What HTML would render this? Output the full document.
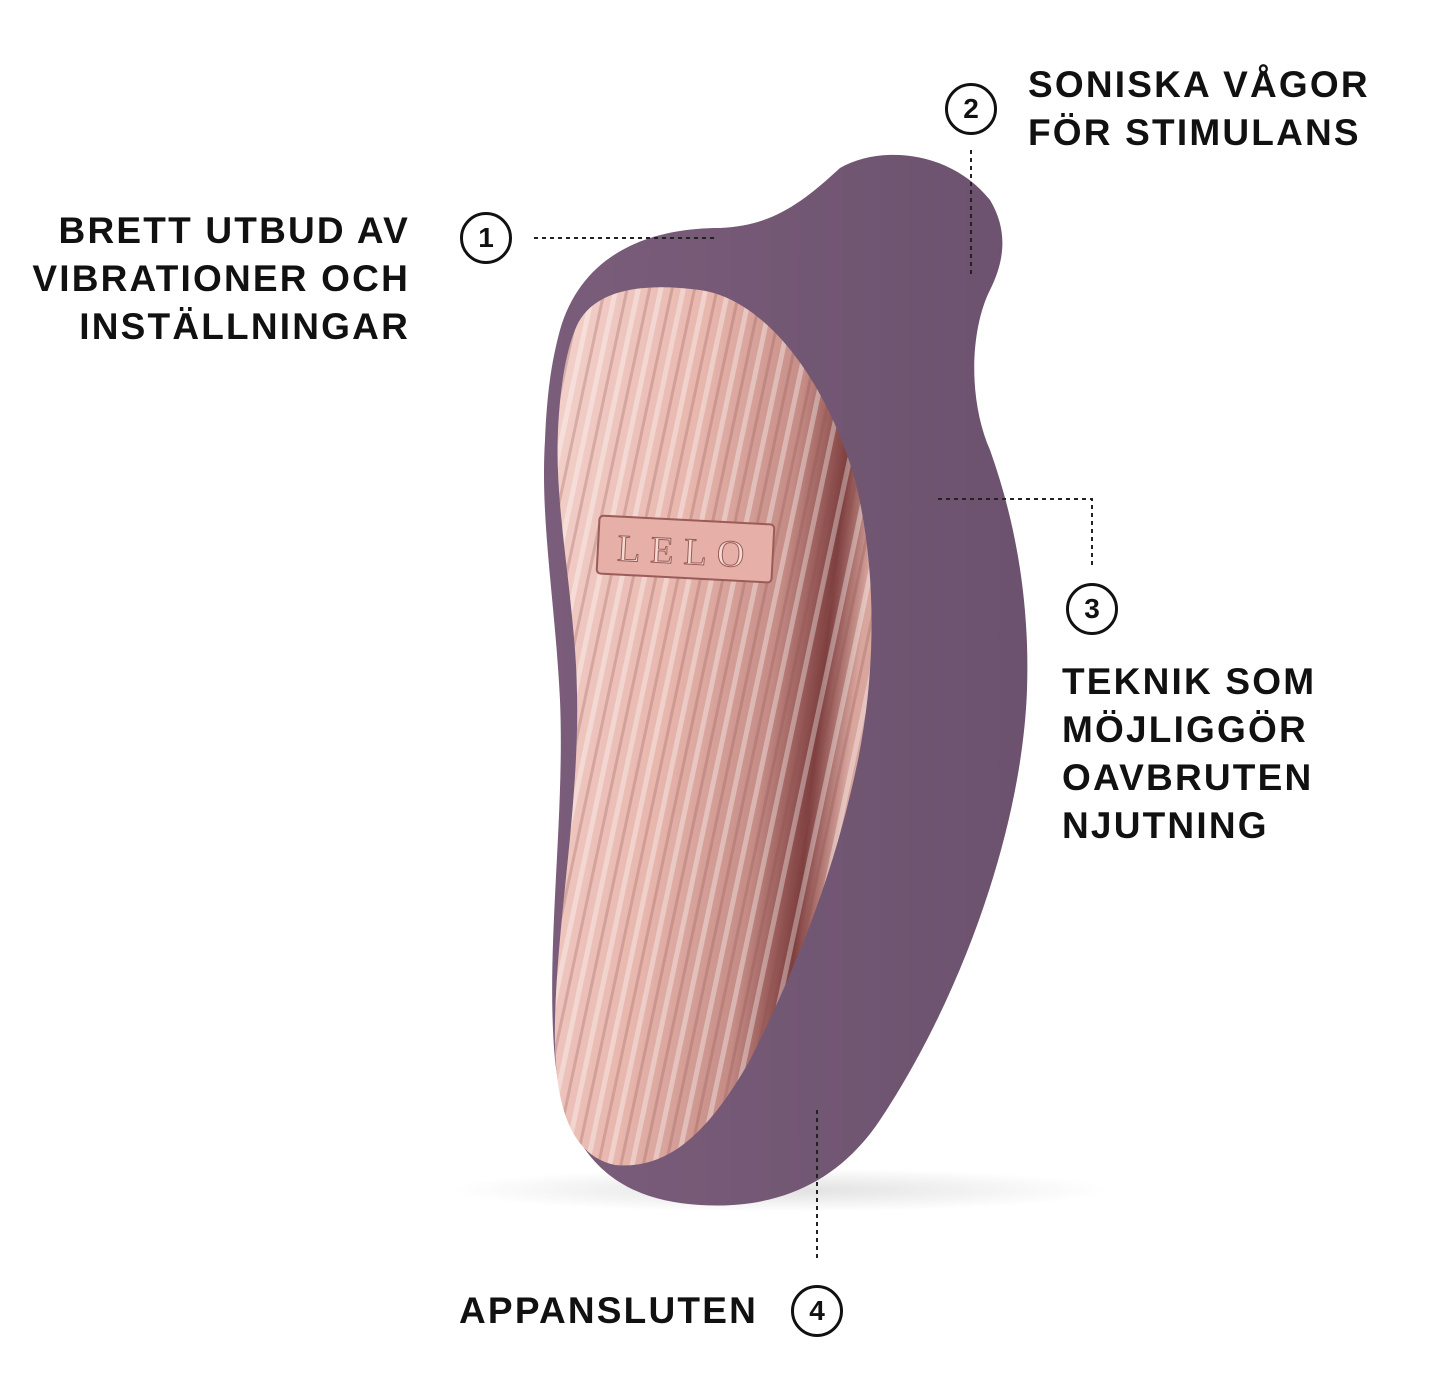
<!DOCTYPE html>
<html><head><meta charset="utf-8"><style>
html,body{margin:0;padding:0;background:#fff}
body{width:1444px;height:1388px;position:relative;overflow:hidden;font-family:"Liberation Sans",sans-serif}
.t{position:absolute;font-weight:bold;font-size:37px;line-height:48px;color:#111;letter-spacing:2.2px}
.c{position:absolute;width:52px;height:52px;border:3px solid #111;border-radius:50%;box-sizing:border-box;font-weight:bold;font-size:28px;line-height:46px;text-align:center;color:#111;background:#fff}
</style></head><body>
<svg width="1444" height="1388" style="position:absolute;left:0;top:0">
<defs>
<linearGradient id="p" x1="0" y1="0" x2="1" y2="0">
<stop offset="0" stop-color="#7a5d7a"/><stop offset="1" stop-color="#6c526e"/></linearGradient>
<linearGradient id="k" x1="0" y1="0" x2="1" y2="0.3">
<stop offset="0" stop-color="#f3d2cc"/><stop offset="0.45" stop-color="#e8b7ae"/><stop offset="0.75" stop-color="#c58c86"/><stop offset="0.9" stop-color="#7e3f3f"/><stop offset="1" stop-color="#d9a69e"/></linearGradient>
<pattern id="s" width="22" height="40" patternUnits="userSpaceOnUse" patternTransform="rotate(12)">
<rect x="0" width="5" height="40" fill="#fff" opacity="0.35"/><rect x="12" width="3" height="40" fill="#8a4a48" opacity="0.25"/></pattern>
<radialGradient id="sh"><stop offset="0" stop-color="#000" stop-opacity="0.12"/><stop offset="1" stop-color="#000" stop-opacity="0"/></radialGradient>
</defs>
<ellipse cx="780" cy="1190" rx="330" ry="22" fill="url(#sh)"/>
<path d="M560,330 C580,260 640,228 720,228 C770,226 800,205 840,168 C880,145 950,150 990,200 C1008,230 1005,260 990,290 C970,330 968,400 990,450 C1015,520 1030,600 1027,690 C1022,830 960,1000 880,1120 C840,1180 780,1210 700,1205 C610,1200 565,1150 555,1060 C545,950 565,820 560,700 C555,600 540,520 545,440 C547,390 552,360 560,330 Z" fill="url(#p)"/>
<path d="M575,330 C590,290 640,282 700,290 C770,300 830,390 855,480 C875,560 878,660 858,760 C835,870 800,960 750,1060 C710,1130 670,1170 615,1165 C568,1155 553,1100 555,1020 C558,900 585,780 575,650 C568,560 555,500 558,430 C560,390 565,355 575,330 Z" fill="url(#k)"/>
<path d="M575,330 C590,290 640,282 700,290 C770,300 830,390 855,480 C875,560 878,660 858,760 C835,870 800,960 750,1060 C710,1130 670,1170 615,1165 C568,1155 553,1100 555,1020 C558,900 585,780 575,650 C568,560 555,500 558,430 C560,390 565,355 575,330 Z" fill="url(#s)"/>
<rect x="598" y="520" width="175" height="58" rx="4" fill="#e6b0a8" stroke="#9a5c58" stroke-width="2" transform="rotate(3 685 549)"/>
<text x="686" y="564" font-family="Liberation Serif,serif" font-size="38" fill="#f5dad4" stroke="#9a5c58" stroke-width="1" text-anchor="middle" letter-spacing="10" transform="rotate(3 685 549)">LELO</text>
<g stroke="#222" stroke-width="2" stroke-dasharray="4,4" fill="none">
<path d="M534,238 H718"/><path d="M971,150 V276"/><path d="M938,499 H1092 V565"/><path d="M817,1110 V1262"/>
</g>
</svg>
<div class="c" style="left:460px;top:212px">1</div>
<div class="c" style="left:945px;top:83px">2</div>
<div class="c" style="left:1066px;top:583px">3</div>
<div class="c" style="left:791px;top:1285px">4</div>
<div class="t" style="left:1028px;top:61px">SONISKA VÅGOR<br>FÖR STIMULANS</div>
<div class="t" style="right:1034px;top:207px;text-align:right">BRETT UTBUD AV<br>VIBRATIONER OCH<br>INSTÄLLNINGAR</div>
<div class="t" style="left:1062px;top:658px">TEKNIK SOM<br>MÖJLIGGÖR<br>OAVBRUTEN<br>NJUTNING</div>
<div class="t" style="right:686px;top:1287px;text-align:right">APPANSLUTEN</div>
</body></html>
